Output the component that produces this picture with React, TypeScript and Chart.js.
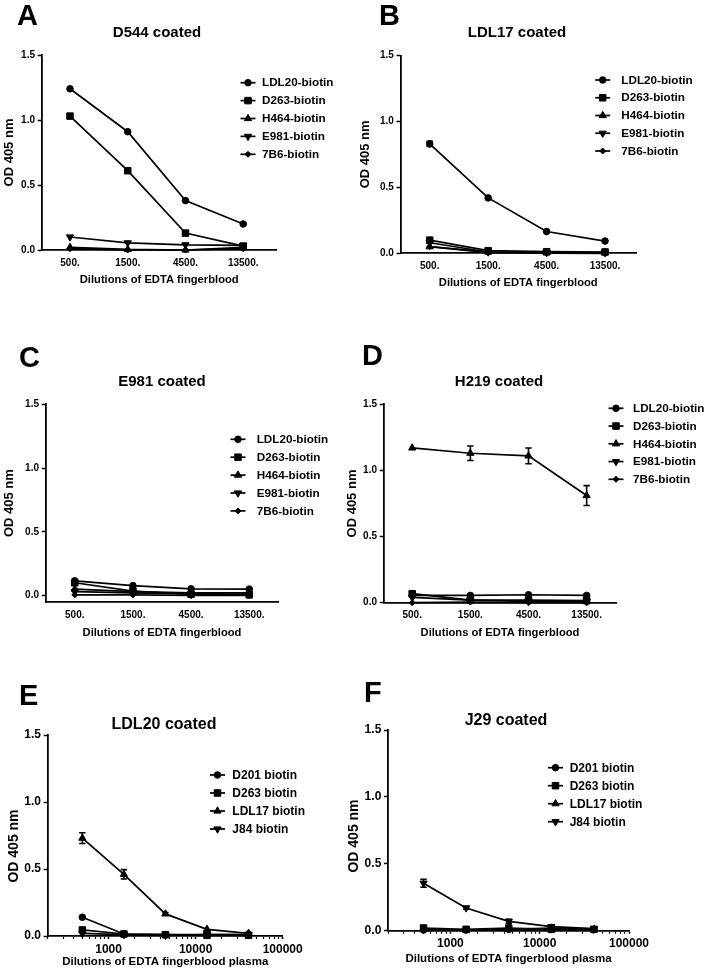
import React, { useEffect, useRef } from 'react';
import { Chart, registerables } from 'chart.js';

Chart.register(...registerables);

const FONT = "'Liberation Sans', Arial, Helvetica, sans-serif";

// ---------- categories / tick labels ----------
const fingerbloodDilutions = ['500.', '1500.', '4500.', '13500.'];
const plasmaDilutions = [500, 1500, 4500, 13500, 40500];
const plasmaTickLabels = [1000, 10000, 100000];
const yTickValues = [0, 0.5, 1.0, 1.5];

const fingerbloodProbes = ['LDL20-biotin', 'D263-biotin', 'H464-biotin', 'E981-biotin', '7B6-biotin'];
const plasmaProbes = ['D201 biotin', 'D263 biotin', 'LDL17 biotin', 'J84 biotin'];

// ---------- Panel A: D544 coated ----------
const A_LDL20 = [1.24, 0.91, 0.38, 0.2];
const A_D263 = [1.03, 0.61, 0.13, 0.03];
const A_H464 = [0.02, 0.005, 0.0, 0.02];
const A_E981 = [0.1, 0.055, 0.04, 0.035];
const A_7B6 = [0.01, 0.0, 0.0, 0.01];

// ---------- Panel B: LDL17 coated ----------
const B_LDL20 = [0.83, 0.42, 0.165, 0.093];
const B_LDL20_err = [0.02, 0, 0, 0];
const B_D263 = [0.1, 0.02, 0.012, 0.01];
const B_H464 = [0.05, 0.01, 0.005, 0.005];
const B_E981 = [0.08, 0.01, 0.005, 0.005];
const B_7B6 = [0.05, 0.005, 0.002, 0.0];

// ---------- Panel C: E981 coated ----------
const C_LDL20 = [0.115, 0.078, 0.052, 0.05];
const C_D263 = [0.1, 0.035, 0.01, 0.005];
const C_H464 = [0.05, 0.03, 0.02, 0.02];
const C_E981 = [0.03, 0.02, 0.01, 0.01];
const C_7B6 = [0.005, 0.005, 0.0, 0.0];

// ---------- Panel D: H219 coated ----------
const D_LDL20 = [0.055, 0.055, 0.06, 0.055];
const D_D263 = [0.068, 0.02, 0.02, 0.015];
const D_H464 = [1.17, 1.13, 1.11, 0.81];
const D_H464_err = [0, 0.055, 0.06, 0.075];
const D_E981 = [0.04, 0.02, 0.01, 0.01];
const D_7B6 = [0.0, 0.005, 0.0, 0.0];

// ---------- Panel E: LDL20 coated ----------
const E_D201 = [0.14, 0.015, 0.01, 0.01, 0.01];
const E_D263 = [0.045, 0.015, 0.01, 0.005, 0.005];
const E_LDL17 = [0.73, 0.46, 0.165, 0.05, 0.02];
const E_LDL17_err = [0.04, 0.035, 0.01, 0, 0];
const E_J84 = [0.02, 0.01, 0.005, 0.01, 0.01];

// ---------- Panel F: J29 coated ----------
const F_D201 = [0.005, 0.005, 0.01, 0.01, 0.01];
const F_D263 = [0.02, 0.01, 0.02, 0.01, 0.01];
const F_LDL17 = [0.01, 0.005, 0.01, 0.02, 0.01];
const F_J84 = [0.355, 0.17, 0.07, 0.03, 0.015];
const F_J84_err = [0.03, 0.01, 0.015, 0.01, 0];

// ---------- marker styles ----------
type Marker = { style: string; r: number; rot: number };
const MK_CIRCLE: Marker = { style: 'circle', r: 3.3, rot: 0 };
const MK_SQUARE: Marker = { style: 'rect', r: 4.6, rot: 0 };
const MK_TRI: Marker = { style: 'triangle', r: 4.2, rot: 0 };
const MK_TRI_DOWN: Marker = { style: 'triangle', r: 4.2, rot: 180 };
const MK_DIAMOND: Marker = { style: 'rectRot', r: 3, rot: 0 };
const fingerbloodMarkers = [MK_CIRCLE, MK_SQUARE, MK_TRI, MK_TRI_DOWN, MK_DIAMOND];
const plasmaMarkers = [MK_CIRCLE, MK_SQUARE, MK_TRI, MK_TRI_DOWN];

function drawMarker(ctx: CanvasRenderingContext2D, m: Marker, x: number, y: number) {
  const r = m.r;
  ctx.beginPath();
  if (m.style === 'circle') {
    ctx.arc(x, y, r, 0, Math.PI * 2);
  } else if (m.style === 'rect') {
    const s = Math.SQRT1_2 * r;
    ctx.rect(x - s, y - s, 2 * s, 2 * s);
  } else if (m.style === 'rectRot') {
    ctx.moveTo(x - r, y);
    ctx.lineTo(x, y - r);
    ctx.lineTo(x + r, y);
    ctx.lineTo(x, y + r);
    ctx.closePath();
  } else {
    let rad = (m.rot * Math.PI) / 180;
    const step = (2 * Math.PI) / 3;
    ctx.moveTo(x + Math.sin(rad) * r, y - Math.cos(rad) * r);
    rad += step;
    ctx.lineTo(x + Math.sin(rad) * r, y - Math.cos(rad) * r);
    rad += step;
    ctx.lineTo(x + Math.sin(rad) * r, y - Math.cos(rad) * r);
    ctx.closePath();
  }
  ctx.fill();
  ctx.stroke();
}

type PanelCfg = {
  letter: string;
  letterPos: { x: number; y: number };
  title: string;
  titlePos: { x: number; y: number };
  titleSize: number;
  canvas: { x: number; y: number; w: number; h: number };
  area: { L: number; T: number; R: number; B: number };
  log: boolean;
  xMin: number;
  xMax: number;
  yMin: number;
  xs: number[];
  names: string[];
  markers: Marker[];
  series: number[][];
  errors: (number[] | null)[];
  xTitle: string;
  xTitleY: number;
  xTitleSize: number;
  xTickY: number;
  tickSize: number;
  yTitleX: number;
  yTitleY?: number;
  yTitleSize: number;
  legend: { markX: number; textX: number; y0: number; step: number; size: number };
};

const idx4 = [0, 1, 2, 3];

const panels: PanelCfg[] = [
  {
    letter: 'A', letterPos: { x: 17, y: 25 },
    title: 'D544 coated', titlePos: { x: 157, y: 37 }, titleSize: 15,
    canvas: { x: 0, y: 0, w: 342, h: 296 },
    area: { L: 41.7, T: 55, R: 276.7, B: 250 },
    log: false, xMin: -0.49, xMax: 3.58, yMin: 0, xs: idx4,
    names: fingerbloodProbes, markers: fingerbloodMarkers,
    series: [A_LDL20, A_D263, A_H464, A_E981, A_7B6],
    errors: [null, null, null, null, null],
    xTitle: 'Dilutions of EDTA fingerblood', xTitleY: 280, xTitleSize: 11.2, xTickY: 263, tickSize: 10,
    yTitleX: 9, yTitleSize: 13,
    legend: { markX: 248, textX: 262, y0: 82.7, step: 17.9, size: 11.7 },
  },
  {
    letter: 'B', letterPos: { x: 379, y: 25 },
    title: 'LDL17 coated', titlePos: { x: 517, y: 37 }, titleSize: 15,
    canvas: { x: 342, y: 0, w: 364, h: 296 },
    area: { L: 400.5, T: 55.5, R: 636, B: 253.3 },
    log: false, xMin: -0.5, xMax: 3.53, yMin: 0, xs: idx4,
    names: fingerbloodProbes, markers: fingerbloodMarkers,
    series: [B_LDL20, B_D263, B_H464, B_E981, B_7B6],
    errors: [B_LDL20_err, null, null, null, null],
    xTitle: 'Dilutions of EDTA fingerblood', xTitleY: 283.3, xTitleSize: 11.2, xTickY: 266.7, tickSize: 10,
    yTitleX: 365.5, yTitleSize: 13,
    legend: { markX: 602.7, textX: 621.3, y0: 80, step: 17.75, size: 11.7 },
  },
  {
    letter: 'C', letterPos: { x: 19, y: 367 },
    title: 'E981 coated', titlePos: { x: 162, y: 386 }, titleSize: 15,
    canvas: { x: 0, y: 296, w: 342, h: 346 },
    area: { L: 45.7, T: 404.3, R: 278.3, B: 602 },
    log: false, xMin: -0.5, xMax: 3.5, yMin: -0.051, xs: idx4,
    names: fingerbloodProbes, markers: fingerbloodMarkers,
    series: [C_LDL20, C_D263, C_H464, C_E981, C_7B6],
    errors: [null, null, null, null, null],
    xTitle: 'Dilutions of EDTA fingerblood', xTitleY: 633, xTitleSize: 11.2, xTickY: 615, tickSize: 10,
    yTitleX: 9, yTitleSize: 13,
    legend: { markX: 238, textX: 256.7, y0: 439.3, step: 17.9, size: 11.7 },
  },
  {
    letter: 'D', letterPos: { x: 362, y: 365 },
    title: 'H219 coated', titlePos: { x: 499, y: 386 }, titleSize: 15,
    canvas: { x: 342, y: 296, w: 364, h: 346 },
    area: { L: 383.7, T: 404.3, R: 616.3, B: 602.7 },
    log: false, xMin: -0.49, xMax: 3.51, yMin: 0, xs: idx4,
    names: fingerbloodProbes, markers: fingerbloodMarkers,
    series: [D_LDL20, D_D263, D_H464, D_E981, D_7B6],
    errors: [null, null, D_H464_err, null, null],
    xTitle: 'Dilutions of EDTA fingerblood', xTitleY: 633, xTitleSize: 11.2, xTickY: 615, tickSize: 10,
    yTitleX: 352, yTitleSize: 13,
    legend: { markX: 616, textX: 633, y0: 408.3, step: 17.75, size: 11.7 },
  },
  {
    letter: 'E', letterPos: { x: 19, y: 705 },
    title: 'LDL20 coated', titlePos: { x: 164, y: 729 }, titleSize: 16,
    canvas: { x: 0, y: 642, w: 342, h: 329 },
    area: { L: 47.7, T: 735, R: 282.7, B: 936 },
    log: true, xMin: 200, xMax: 100000, yMin: 0, xs: plasmaDilutions,
    names: plasmaProbes, markers: plasmaMarkers,
    series: [E_D201, E_D263, E_LDL17, E_J84],
    errors: [null, null, E_LDL17_err, null],
    xTitle: 'Dilutions of EDTA fingerblood plasma', xTitleY: 961.7, xTitleSize: 11.5, xTickY: 949.3, tickSize: 12,
    yTitleX: 14, yTitleY: 846, yTitleSize: 14,
    legend: { markX: 217.5, textX: 232.3, y0: 775, step: 18, size: 12 },
  },
  {
    letter: 'F', letterPos: { x: 364, y: 702 },
    title: 'J29 coated', titlePos: { x: 506, y: 725 }, titleSize: 16,
    canvas: { x: 342, y: 642, w: 364, h: 329 },
    area: { L: 388, T: 730, R: 629, B: 930.7 },
    log: true, xMin: 200, xMax: 100000, yMin: 0, xs: plasmaDilutions,
    names: plasmaProbes, markers: plasmaMarkers,
    series: [F_D201, F_D263, F_LDL17, F_J84],
    errors: [null, null, null, F_J84_err],
    xTitle: 'Dilutions of EDTA fingerblood plasma', xTitleY: 959.3, xTitleSize: 11.5, xTickY: 944, tickSize: 12,
    yTitleX: 354, yTitleY: 836, yTitleSize: 14,
    legend: { markX: 555.5, textX: 569.7, y0: 767.7, step: 18, size: 12 },
  },
];

function logTickList(): number[] {
  const out: number[] = [];
  for (let d = 100; d <= 10000; d *= 10) {
    for (let k = 2; k <= 10; k++) {
      const v = k * d;
      if (v >= 200 && v <= 100000) out.push(v);
    }
  }
  return out;
}

function buildConfig(cfg: PanelCfg): any {
  const { x: cx, y: cy, w: cw, h: ch } = cfg.canvas;
  const A = cfg.area;
  const LINE = 1.7;
  const xTl = cfg.log ? 3 : 0;
  const lhX = 1.2 * cfg.xTitleSize;
  const lhY = 1.2 * cfg.yTitleSize;
  const manualYTitle = cfg.yTitleY !== undefined;

  const datasets = cfg.series.map((vals, i) => {
    const m = cfg.markers[i];
    return {
      label: cfg.names[i],
      data: vals.map((v, j) => ({ x: cfg.xs[j], y: v })),
      errorBars: cfg.errors[i],
      borderColor: '#000',
      backgroundColor: '#000',
      borderWidth: LINE,
      pointStyle: m.style,
      pointRadius: m.r,
      pointRotation: m.rot,
      pointBackgroundColor: '#000',
      pointBorderColor: '#000',
      pointBorderWidth: 1,
      tension: 0,
      clip: false,
    };
  });

  const errorPlugin = {
    id: 'errorBars',
    afterDatasetsDraw(chart: any) {
      const ctx = chart.ctx as CanvasRenderingContext2D;
      const xs = chart.scales.x;
      const ys = chart.scales.y;
      ctx.save();
      ctx.strokeStyle = '#000';
      ctx.lineWidth = 1.6;
      chart.data.datasets.forEach((ds: any) => {
        if (!ds.errorBars) return;
        ds.data.forEach((p: any, j: number) => {
          const e = ds.errorBars[j];
          if (!e) return;
          const px = xs.getPixelForValue(p.x);
          const yt = ys.getPixelForValue(p.y + e);
          const yb = ys.getPixelForValue(p.y - e);
          ctx.beginPath();
          ctx.moveTo(px, yt);
          ctx.lineTo(px, yb);
          ctx.moveTo(px - 3.2, yt);
          ctx.lineTo(px + 3.2, yt);
          ctx.moveTo(px - 3.2, yb);
          ctx.lineTo(px + 3.2, yb);
          ctx.stroke();
        });
      });
      ctx.restore();
    },
  };

  const decorPlugin = {
    id: 'panelDecor',
    afterDraw(chart: any) {
      const ctx = chart.ctx as CanvasRenderingContext2D;
      ctx.save();
      ctx.fillStyle = '#000';
      ctx.strokeStyle = '#000';
      ctx.textBaseline = 'alphabetic';
      ctx.textAlign = 'left';
      ctx.font = `bold 29px ${FONT}`;
      ctx.fillText(cfg.letter, cfg.letterPos.x - cx, cfg.letterPos.y - cy);
      ctx.textAlign = 'center';
      ctx.font = `bold ${cfg.titleSize}px ${FONT}`;
      ctx.fillText(cfg.title, cfg.titlePos.x - cx, cfg.titlePos.y - cy);
      if (manualYTitle) {
        ctx.save();
        ctx.translate(cfg.yTitleX - cx, (cfg.yTitleY as number) - cy);
        ctx.rotate(-Math.PI / 2);
        ctx.textAlign = 'center';
        ctx.textBaseline = 'middle';
        ctx.font = `bold ${cfg.yTitleSize}px ${FONT}`;
        ctx.fillText('OD 405 nm', 0, 0);
        ctx.restore();
      }
      const lg = cfg.legend;
      cfg.names.forEach((name, i) => {
        const y = lg.y0 + i * lg.step - cy;
        const mx = lg.markX - cx;
        ctx.lineWidth = LINE;
        ctx.beginPath();
        ctx.moveTo(mx - 7.5, y);
        ctx.lineTo(mx + 7.5, y);
        ctx.stroke();
        ctx.lineWidth = 1;
        drawMarker(ctx, cfg.markers[i], mx, y);
        ctx.textAlign = 'left';
        ctx.textBaseline = 'middle';
        ctx.font = `bold ${lg.size}px ${FONT}`;
        ctx.fillText(name, lg.textX - cx, y + 0.5);
      });
      ctx.restore();
    },
  };

  const tickFont = { size: cfg.tickSize, weight: 'bold', family: FONT };
  const logTicks = logTickList();

  return {
    type: 'line',
    data: { datasets },
    plugins: [errorPlugin, decorPlugin],
    options: {
      animation: false,
      responsive: false,
      devicePixelRatio: 1,
      events: [],
      layout: { padding: { left: 0, top: A.T - cy, right: cx + cw - A.R, bottom: 0 } },
      plugins: {
        legend: { display: false },
        tooltip: { enabled: false },
        title: { display: false },
      },
      scales: {
        x: {
          type: cfg.log ? 'logarithmic' : 'linear',
          bounds: 'data',
          min: cfg.xMin,
          max: cfg.xMax,
          afterFit: (s: any) => {
            s.height = cy + ch - A.B;
          },
          afterBuildTicks: (s: any) => {
            s.ticks = cfg.log
              ? logTicks.map((v) => ({ value: v, major: plasmaTickLabels.includes(v) }))
              : cfg.xs.map((v) => ({ value: v }));
          },
          ticks: {
            autoSkip: false,
            maxRotation: 0,
            minRotation: 0,
            color: '#000',
            font: tickFont,
            padding: cfg.xTickY - A.B - xTl - 0.6 * cfg.tickSize,
            callback: (v: any) => {
              if (cfg.log) return plasmaTickLabels.includes(Number(v)) ? String(v) : '';
              return fingerbloodDilutions[Number(v)] ?? '';
            },
          },
          grid: {
            display: true,
            drawOnChartArea: false,
            drawTicks: cfg.log,
            tickLength: 3,
            tickColor: '#000',
            tickWidth: (c: any) => (c.tick && plasmaTickLabels.includes(c.tick.value) ? 1.6 : 1.2),
          },
          border: { display: true, color: '#000', width: 1.8 },
          title: {
            display: true,
            text: cfg.xTitle,
            color: '#000',
            font: { size: cfg.xTitleSize, weight: 'bold', family: FONT },
            padding: { top: 0, bottom: cy + ch - cfg.xTitleY - lhX / 2 },
          },
        },
        y: {
          type: 'linear',
          bounds: 'data',
          min: cfg.yMin,
          max: 1.5,
          afterFit: (s: any) => {
            s.width = A.L - cx;
          },
          afterBuildTicks: (s: any) => {
            s.ticks = yTickValues.map((v) => ({ value: v }));
          },
          ticks: {
            color: '#000',
            font: tickFont,
            padding: 2.7,
            callback: (v: any) => Number(v).toFixed(1),
          },
          grid: {
            display: true,
            drawOnChartArea: false,
            drawTicks: true,
            tickLength: 4,
            tickColor: '#000',
            tickWidth: 1.5,
          },
          border: { display: true, color: '#000', width: 1.8 },
          title: {
            display: !manualYTitle,
            text: 'OD 405 nm',
            color: '#000',
            font: { size: cfg.yTitleSize, weight: 'bold', family: FONT },
            padding: { top: Math.max(0, cfg.yTitleX - cx - lhY / 2), bottom: 0 },
          },
        },
      },
    },
  };
}

function Panel({ cfg }: { cfg: PanelCfg }) {
  const ref = useRef<HTMLCanvasElement>(null);
  useEffect(() => {
    if (!ref.current) return;
    const chart = new Chart(ref.current, buildConfig(cfg));
    return () => chart.destroy();
  }, [cfg]);
  return (
    <canvas
      ref={ref}
      width={cfg.canvas.w}
      height={cfg.canvas.h}
      style={{
        position: 'absolute',
        left: cfg.canvas.x,
        top: cfg.canvas.y,
        width: cfg.canvas.w,
        height: cfg.canvas.h,
      }}
    />
  );
}

export default function App() {
  return (
    <div
      style={{
        position: 'absolute',
        left: 0,
        top: 0,
        width: 706,
        height: 971,
        background: '#fff',
        overflow: 'hidden',
      }}
    >
      {panels.map((p) => (
        <Panel key={p.letter} cfg={p} />
      ))}
    </div>
  );
}
